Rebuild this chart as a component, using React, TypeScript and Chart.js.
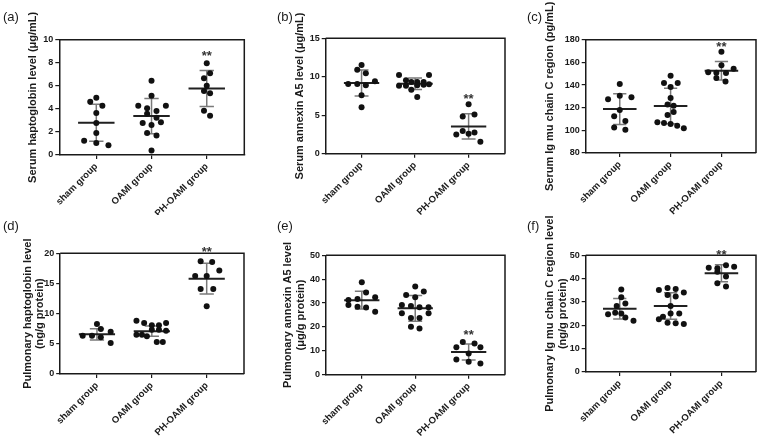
import { useEffect, useRef } from 'react';
import { Chart, registerables } from 'chart.js';

Chart.register(...registerables);

const groups = ['sham group', 'OAMI group', 'PH-OAMI group'];

// ---------- (a) Serum haptoglobin ----------
const aTitle = 'Serum haptoglobin level (μg/mL)';
const aAxis = [0, 10, 2];
const aSham = [4.62, 4.97, 4.28, 3.64, 2.77, 1.91, 1.24, 1.04, 0.84];
const aOami = [6.45, 5.14, 4.28, 4.05, 3.82, 4.28, 3.58, 3.24, 2.77, 2.83, 2.6, 1.91, 1.7, 0.38];
const aPh = [7.95, 7.08, 6.65, 6.01, 5.55, 5.35, 3.84, 3.41];
const aShamJit = [-0.11, 0, 0.11, 0, 0, 0, -0.22, 0, 0.22];
const aOamiJit = [0, 0, -0.24, -0.08, 0.09, 0.26, -0.08, 0.09, -0.16, 0.17, 0, -0.08, 0.09, 0];
const aPhJit = [0, 0.06, -0.05, 0, -0.05, 0.06, -0.05, 0.06];
const aMean = [2.8, 3.38, 5.76];
const aSD = [1.61, 1.53, 1.56];
const aStar = 8.9;

// ---------- (b) Serum annexin A5 ----------
const bTitle = 'Serum annexin A5 level (μg/mL)';
const bAxis = [0, 15, 5];
const bSham = [11.53, 10.92, 10.45, 9.06, 9.06, 8.89, 9.41, 7.59, 6.03];
const bOami = [10.23, 10.23, 9.54, 8.84, 8.84, 9.32, 9.32, 9.32, 8.32, 8.89, 8.97, 9.02, 7.37];
const bPh = [6.42, 4.85, 5.11, 2.95, 2.51, 2.6, 2.77, 1.56];
const bShamJit = [0, -0.08, 0.08, -0.25, -0.08, 0.08, 0.25, 0, 0];
const bOamiJit = [-0.3, 0.26, -0.17, -0.3, -0.17, -0.07, 0.04, 0.16, -0.07, 0.04, 0.16, 0.26, 0.04];
const bPhJit = [0, -0.11, 0.11, -0.11, -0.23, 0, 0.11, 0.22];
const bMean = [9.2, 9.1, 3.55];
const bSD = [1.69, 0.74, 1.65];
const bStar = 7.6;

// ---------- (c) Serum Ig mu chain C region ----------
const cTitle = 'Serum Ig mu chain C region (pg/mL)';
const cAxis = [80, 180, 20];
const cSham = [140.9, 127.4, 130.6, 129.1, 117.9, 112.4, 108.2, 102.6, 100.6];
const cOami = [148.2, 141.8, 141.8, 138.2, 128.5, 122.9, 121.8, 116.2, 113.5, 107.1, 106.5, 105.6, 104.1, 101.8];
const cPh = [169.4, 157.4, 151.2, 150.8, 150.6, 154.4, 146.3, 143.2];
const cShamJit = [0, -0.23, 0, 0.23, 0, -0.11, 0.11, -0.11, 0.11];
const cOamiJit = [0, -0.13, 0.14, 0, 0, -0.06, 0.06, 0.06, -0.06, -0.26, -0.13, 0, 0.13, 0.26];
const cPhJit = [0, 0, -0.26, -0.1, 0.09, 0.24, -0.1, 0.08];
const cMean = [118.8, 121.5, 152.6];
const cSD = [13.6, 15.6, 8.1];
const cStar = 176.7;

// ---------- (d) Pulmonary haptoglobin ----------
const dTitle = ['Pulmonary haptoglobin level', '(ng/g protein)'];
const dAxis = [0, 20, 5];
const dSham = [8.29, 7.46, 6.35, 6.35, 6.08, 7.02, 5.14];
const dOami = [8.84, 8.45, 8.07, 8.07, 8.45, 7.35, 7.35, 7.18, 6.52, 6.52, 6.24, 5.3, 5.3];
const dPh = [18.67, 18.56, 16.24, 16.24, 17.13, 14.09, 14.09, 11.22];
const dShamJit = [0, 0.07, -0.26, -0.09, 0.07, 0.25, 0.25];
const dOamiJit = [-0.28, -0.14, 0, 0.13, 0.26, 0, 0.13, 0.26, -0.28, -0.18, -0.09, 0.09, 0.2];
const dPhJit = [-0.11, 0.1, -0.21, 0, 0.23, -0.11, 0.12, 0];
const dMean = [6.57, 7.1, 15.8];
const dSD = [0.94, 0.85, 2.54];
const dStar = 20.8;

// ---------- (e) Pulmonary annexin A5 ----------
const eTitle = ['Pulmonary annexin A5 level', '(μg/g protein)'];
const eAxis = [0, 50, 10];
const eSham = [38.7, 34.4, 31.3, 31.7, 32.4, 29.2, 28.5, 28.1, 26.4];
const eOami = [36.9, 33.4, 32.4, 34.8, 29.2, 28.8, 28.2, 28.2, 25.7, 25.7, 23.7, 23.7, 20.1, 19.3];
const ePh = [13.7, 13.1, 11.5, 11.5, 8.9, 6.4, 5.4, 4.7];
const eShamJit = [0, 0.08, -0.25, -0.08, 0.25, -0.25, -0.08, 0.08, 0.25];
const eOamiJit = [0, -0.17, 0, 0.16, -0.25, -0.08, 0.08, 0.25, -0.25, 0.25, -0.08, 0.08, -0.08, 0.08];
const ePhJit = [-0.11, 0.11, -0.23, 0.22, 0, -0.23, 0, 0.22];
const eMean = [31.2, 27.8, 9.5];
const eSD = [3.7, 5.4, 3.35];
const eStar = 18.2;

// ---------- (f) Pulmonary Ig mu chain C region ----------
const fTitle = ['Pulmonary Ig mu chain C region level', '(ng/g protein)'];
const fAxis = [0, 50, 10];
const fSham = [35.4, 32.0, 28.3, 29.4, 24.7, 25.4, 25.1, 23.3, 22.0];
const fOami = [35.1, 36.0, 35.6, 34.1, 33.0, 32.3, 28.3, 22.6, 23.7, 25.1, 25.1, 21.1, 20.9, 20.6];
const fPh = [44.7, 44.4, 43.0, 45.7, 45.1, 40.9, 38.0, 36.6];
const fShamJit = [0.03, 0.03, -0.06, 0.11, -0.23, -0.09, 0.03, 0.11, 0.27];
const fOamiJit = [-0.23, -0.06, 0.1, 0.26, -0.06, 0.1, 0, -0.23, -0.15, 0, 0.17, -0.06, 0.1, 0.26];
const fPhJit = [-0.25, -0.08, -0.08, 0.09, 0.25, 0.09, -0.08, 0.09];
const fMean = [27.1, 28.3, 42.3];
const fSD = [4.35, 5.7, 3.6];
const fStar = 51.8;

// ---------- styling / layout ----------
const FONT = "'Liberation Sans', Arial, Helvetica, sans-serif";
const INK = '#1a1a1a';
const SD_COLOR = '#7a7a7a';
const MEAN_HALF = 0.33;
const CAP_HALF = 0.13;
const X_MIN = 0.33;
const X_MAX = 3.68;
const TITLE_SIZE = 11;
const TITLE_LH = 1.15;

type Rect = { left: number; top: number; width: number; height: number };
type Area = { left: number; top: number; right: number; bottom: number };
type PanelCfg = {
  label: string;
  title: string | string[];
  axis: number[];
  ys: number[][];
  jit: number[][];
  mean: number[];
  sd: number[];
  star: number;
  box: Rect;
  area: Area;
  titleX: number;
  labelPos: { x: number; y: number };
};

const panels: PanelCfg[] = [
  {
    label: '(a)', title: aTitle, axis: aAxis, ys: [aSham, aOami, aPh], jit: [aShamJit, aOamiJit, aPhJit],
    mean: aMean, sd: aSD, star: aStar,
    box: { left: 0, top: 0, width: 265, height: 215 },
    area: { left: 59.3, top: 39.7, right: 244.3, bottom: 155 },
    titleX: 33, labelPos: { x: 3, y: 10 },
  },
  {
    label: '(b)', title: bTitle, axis: bAxis, ys: [bSham, bOami, bPh], jit: [bShamJit, bOamiJit, bPhJit],
    mean: bMean, sd: bSD, star: bStar,
    box: { left: 250, top: 0, width: 265, height: 215 },
    area: { left: 325.7, top: 38.3, right: 505, bottom: 153.7 },
    titleX: 300, labelPos: { x: 277, y: 10 },
  },
  {
    label: '(c)', title: cTitle, axis: cAxis, ys: [cSham, cOami, cPh], jit: [cShamJit, cOamiJit, cPhJit],
    mean: cMean, sd: cSD, star: cStar,
    box: { left: 500, top: 0, width: 260, height: 215 },
    area: { left: 585.7, top: 39.7, right: 758, bottom: 153 },
    titleX: 550, labelPos: { x: 527, y: 10 },
  },
  {
    label: '(d)', title: dTitle, axis: dAxis, ys: [dSham, dOami, dPh], jit: [dShamJit, dOamiJit, dPhJit],
    mean: dMean, sd: dSD, star: dStar,
    box: { left: 0, top: 215, width: 265, height: 222 },
    area: { left: 60.2, top: 253.3, right: 244, bottom: 374 },
    titleX: 27.5, labelPos: { x: 3, y: 219 },
  },
  {
    label: '(e)', title: eTitle, axis: eAxis, ys: [eSham, eOami, ePh], jit: [eShamJit, eOamiJit, ePhJit],
    mean: eMean, sd: eSD, star: eStar,
    box: { left: 250, top: 215, width: 265, height: 222 },
    area: { left: 326, top: 255.3, right: 505, bottom: 374.7 },
    titleX: 288, labelPos: { x: 277, y: 219 },
  },
  {
    label: '(f)', title: fTitle, axis: fAxis, ys: [fSham, fOami, fPh], jit: [fShamJit, fOamiJit, fPhJit],
    mean: fMean, sd: fSD, star: fStar,
    box: { left: 500, top: 215, width: 260, height: 222 },
    area: { left: 585.7, top: 255.3, right: 758, bottom: 372 },
    titleX: 550, labelPos: { x: 527, y: 219 },
  },
];

const framePlugin = {
  id: 'frame',
  afterDraw(chart: any, _args: any, opts: any) {
    const { ctx, chartArea: a, scales } = chart;
    ctx.save();
    ctx.strokeStyle = INK;
    ctx.lineWidth = 1.5;
    ctx.beginPath();
    ctx.moveTo(a.left, a.top);
    ctx.lineTo(a.right, a.top);
    ctx.lineTo(a.right, a.bottom);
    ctx.stroke();
    if (opts && typeof opts.star === 'number') {
      const size = 13;
      ctx.fillStyle = '#333';
      ctx.font = `bold ${size}px ${FONT}`;
      ctx.textAlign = 'center';
      ctx.textBaseline = 'alphabetic';
      const x = scales.x.getPixelForValue(3);
      const y = scales.y.getPixelForValue(opts.star);
      ctx.fillText('**', x, y + 0.57 * size);
    }
    ctx.restore();
  },
};

function Panel({ p }: { p: PanelCfg }) {
  const ref = useRef<HTMLCanvasElement | null>(null);
  useEffect(() => {
    const canvas = ref.current;
    if (!canvas) return;
    const points = p.ys.flatMap((arr, g) => arr.map((y, i) => ({ x: g + 1 + p.jit[g][i], y })));
    const meanData: any[] = [];
    const sdData: any[] = [];
    p.mean.forEach((m, g) => {
      const x = g + 1;
      const s = p.sd[g];
      meanData.push({ x: x - MEAN_HALF, y: m }, { x: x + MEAN_HALF, y: m }, { x, y: null });
      sdData.push(
        { x, y: m - s }, { x, y: m + s }, { x, y: null },
        { x: x - CAP_HALF, y: m + s }, { x: x + CAP_HALF, y: m + s }, { x, y: null },
        { x: x - CAP_HALF, y: m - s }, { x: x + CAP_HALF, y: m - s }, { x, y: null },
      );
    });
    const yWidth = p.area.left - p.box.left;
    const xHeight = p.box.top + p.box.height - p.area.bottom;
    const padTop = p.area.top - p.box.top;
    const padRight = p.box.left + p.box.width - p.area.right;
    const titlePad = p.titleX - p.box.left - (TITLE_SIZE * TITLE_LH) / 2;

    const chart = new Chart(canvas, {
      type: 'scatter',
      data: {
        datasets: [
          {
            data: points, pointRadius: 3, pointBackgroundColor: '#111', pointBorderColor: '#111',
            pointBorderWidth: 0, order: 0, clip: false,
          } as any,
          {
            data: meanData, showLine: true, spanGaps: false, borderColor: '#202020', borderWidth: 2,
            pointRadius: 0, order: 1,
          } as any,
          {
            data: sdData, showLine: true, spanGaps: false, borderColor: SD_COLOR, borderWidth: 1.5,
            pointRadius: 0, order: 2,
          } as any,
        ],
      },
      options: {
        responsive: false,
        animation: false,
        events: [],
        layout: { padding: { top: padTop, right: padRight, left: 0, bottom: 0 } },
        plugins: {
          legend: { display: false },
          tooltip: { enabled: false },
          frame: { star: p.star },
        } as any,
        scales: {
          x: {
            type: 'linear',
            min: X_MIN,
            max: X_MAX,
            afterBuildTicks: (s: any) => {
              s.ticks = [1, 2, 3].map((v) => ({ value: v }));
            },
            afterFit: (s: any) => {
              s.height = xHeight;
            },
            grid: { drawOnChartArea: false, drawTicks: true, tickLength: 4, color: INK, lineWidth: 1.2 },
            border: { color: INK, width: 1.5 },
            ticks: {
              autoSkip: false,
              minRotation: 45,
              maxRotation: 45,
              padding: 2,
              color: INK,
              font: { family: FONT, size: 9.5, weight: 'bold' },
              callback: (_v: any, i: number) => groups[i],
            },
          },
          y: {
            min: p.axis[0],
            max: p.axis[1],
            afterFit: (s: any) => {
              s.width = yWidth;
            },
            grid: { drawOnChartArea: false, drawTicks: true, tickLength: 4, color: INK, lineWidth: 1.2 },
            border: { color: INK, width: 1.5 },
            ticks: {
              stepSize: p.axis[2],
              padding: 2,
              color: INK,
              font: { family: FONT, size: 9, weight: 'bold' },
            },
            title: {
              display: true,
              text: p.title,
              color: INK,
              font: { family: FONT, size: TITLE_SIZE, weight: 'bold', lineHeight: TITLE_LH },
              padding: { top: titlePad, bottom: 0 },
            },
          },
        },
      } as any,
      plugins: [framePlugin],
    });
    return () => chart.destroy();
  }, [p]);

  return (
    <>
      <canvas
        ref={ref}
        width={p.box.width}
        height={p.box.height}
        style={{ position: 'absolute', left: p.box.left, top: p.box.top, width: p.box.width, height: p.box.height }}
      />
      <div
        style={{
          position: 'absolute', left: p.labelPos.x, top: p.labelPos.y, fontFamily: FONT,
          fontSize: 13, lineHeight: '13px', color: INK,
        }}
      >
        {p.label}
      </div>
    </>
  );
}

export default function App() {
  return (
    <div
      style={{
        position: 'fixed', left: 0, top: 0, width: 760, height: 437, background: '#fff', overflow: 'hidden',
      }}
    >
      {panels.map((p) => (
        <Panel key={p.label} p={p} />
      ))}
    </div>
  );
}
